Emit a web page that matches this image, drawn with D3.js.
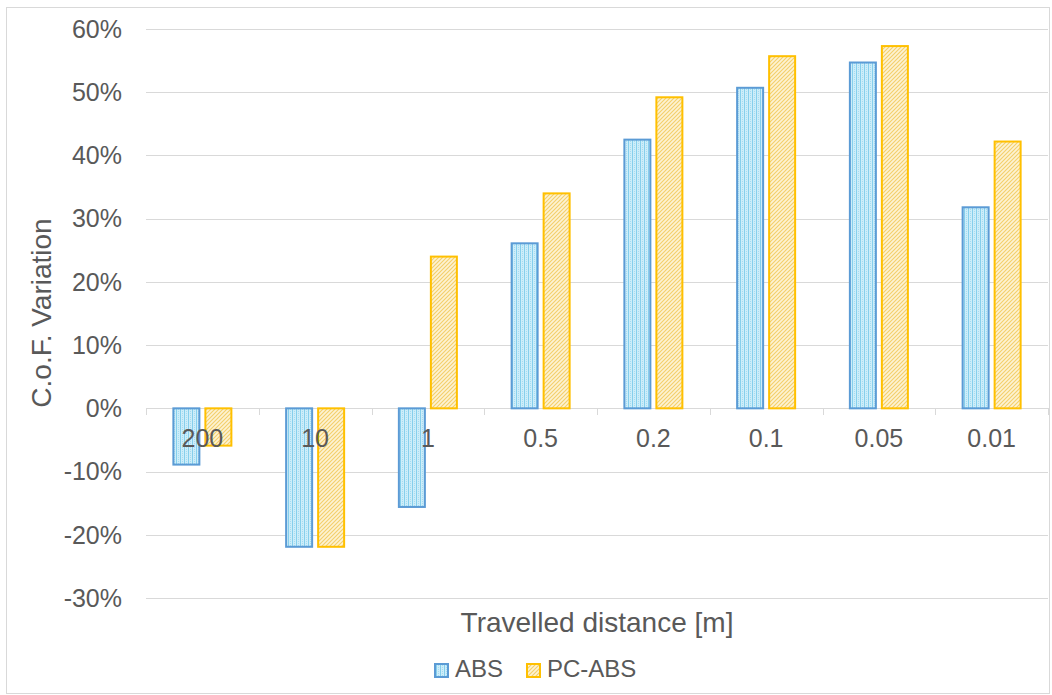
<!DOCTYPE html>
<html><head><meta charset="utf-8">
<script src="https://cdn.jsdelivr.net/npm/d3@7"></script>
<style>body{margin:0;background:#fff;}svg{display:block;font-family:"Liberation Sans",Arial,sans-serif;}</style>
</head><body>
<svg id="c" width="1052" height="695"></svg>
<script>
const categories = ["200","10","1","0.5","0.2","0.1","0.05","0.01"];
const seriesNames = ["ABS","PC-ABS"];
const absValues = [-8.9,-21.9,-15.6,26.1,42.5,50.7,54.7,31.8];
const pcAbsValues = [-5.9,-21.9,24.0,34.0,49.2,55.7,57.3,42.2];
const yTicks = [-30,-20,-10,0,10,20,30,40,50,60];

const svg = d3.select("#c");
const defs = svg.append("defs");
// ABS pattern
const pA = defs.append("pattern").attr("id","pABS").attr("patternUnits","userSpaceOnUse").attr("width",4).attr("height",4);
pA.append("rect").attr("width",4).attr("height",4).attr("fill","#cdedf9");
pA.append("rect").attr("x",0).attr("y",0).attr("width",1).attr("height",4).attr("fill","#86cfec");
pA.append("rect").attr("x",2).attr("y",1).attr("width",1).attr("height",1).attr("fill","#a4dcf1");
pA.append("rect").attr("x",2).attr("y",3).attr("width",1).attr("height",1).attr("fill","#a4dcf1");
// PC-ABS pattern
const pP = defs.append("pattern").attr("id","pPC").attr("patternUnits","userSpaceOnUse").attr("width",4).attr("height",4);
pP.append("rect").attr("width",4).attr("height",4).attr("fill","#fdf3d3");
pP.append("path").attr("d","M-1,1 l2,-2 M0,4 l4,-4 M3,5 l2,-2").attr("stroke","#f4cf6a").attr("stroke-width",1.1);

// chart border
svg.append("rect").attr("x",6.5).attr("y",7.5).attr("width",1043).attr("height",686)
  .attr("fill","none").attr("stroke","#d9d9d9").attr("stroke-width",1);

const x0 = d3.scaleBand().domain(categories).range([146,1048]).paddingInner(0).paddingOuter(0);
const y = d3.scaleLinear().domain([-30,60]).range([598,29]);

// gridlines
svg.append("g").selectAll("line").data(yTicks).join("line")
  .attr("x1",146).attr("x2",1048)
  .attr("y1",d=>Math.round(y(d))+0.5).attr("y2",d=>Math.round(y(d))+0.5)
  .attr("stroke","#d9d9d9").attr("stroke-width",1);

// y tick labels
svg.append("g").selectAll("text").data(yTicks).join("text")
  .attr("x",122).attr("y",d=>y(d)).attr("dy","0.35em")
  .attr("text-anchor","end").attr("font-size",25).attr("fill","#595959")
  .text(d=>d+"%");

// category tick marks
const bounds = categories.map(c=>x0(c)).concat([1048]);
svg.append("g").selectAll("line").data(bounds).join("line")
  .attr("x1",d=>Math.round(d)+0.5).attr("x2",d=>Math.round(d)+0.5)
  .attr("y1",Math.round(y(0))).attr("y2",Math.round(y(0))+7)
  .attr("stroke","#d9d9d9");

// bars
const barW = 26, gap = 6;
const data = categories.map((c,i)=>({c, vals:[absValues[i], pcAbsValues[i]]}));
const styles = [{fill:"url(#pABS)",stroke:"#5b9bd5"},{fill:"url(#pPC)",stroke:"#ffc000"}];
data.forEach(d=>{
  const cx = x0(d.c)+x0.bandwidth()/2;
  d.vals.forEach((v,k)=>{
    const xl = cx - (barW*2+gap)/2 + k*(barW+gap);
    const y1 = y(Math.max(0,v)), y2 = y(Math.min(0,v));
    svg.append("rect").attr("x",xl).attr("y",y1).attr("width",barW).attr("height",y2-y1)
      .attr("fill",styles[k].fill).attr("stroke",styles[k].stroke).attr("stroke-width",2);
  });
});

// category labels
svg.append("g").selectAll("text").data(categories).join("text")
  .attr("x",d=>x0(d)+x0.bandwidth()/2).attr("y",447)
  .attr("text-anchor","middle").attr("font-size",25).attr("fill","#595959")
  .text(d=>d);

// axis titles
svg.append("text").attr("x",597).attr("y",632).attr("text-anchor","middle")
  .attr("font-size",28).attr("fill","#595959").text("Travelled distance [m]");
svg.append("text").attr("transform","translate(51,313) rotate(-90)").attr("text-anchor","middle")
  .attr("font-size",28).attr("fill","#595959").text("C.o.F. Variation");

// legend
const leg = svg.append("g");
const legX = [435, 527];
seriesNames.forEach((n,k)=>{
  leg.append("rect").attr("x",legX[k]).attr("y",664).attr("width",13).attr("height",13)
    .attr("fill",styles[k].fill).attr("stroke",styles[k].stroke).attr("stroke-width",2);
  leg.append("text").attr("x",legX[k]+20).attr("y",677)
    .attr("font-size",24).attr("fill","#595959").text(n);
});
</script>
</body></html>
